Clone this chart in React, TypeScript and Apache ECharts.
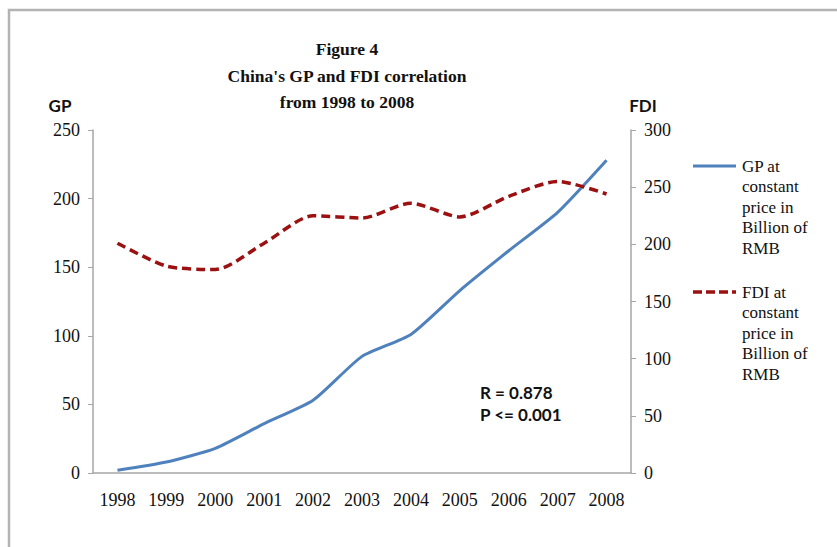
import React, { useEffect, useRef } from "react";
import * as echarts from "echarts";

const years = ["1998", "1999", "2000", "2001", "2002", "2003", "2004", "2005", "2006", "2007", "2008"];
const gpValues = [2, 8, 18, 36, 53, 85, 101, 133, 162, 190, 228];
const fdiValues = [201, 181, 178, 201, 225, 223, 236, 224, 242, 255, 244];
const gpAxisTicks = { min: 0, max: 250, interval: 50 };
const fdiAxisTicks = { min: 0, max: 300, interval: 50 };
const titleLines = ["Figure 4", "China's GP and FDI correlation", "from 1998 to 2008"];
const gpLegend = ["GP at", "constant", "price in", "Billion of", "RMB"];
const fdiLegend = ["FDI at", "constant", "price in", "Billion of", "RMB"];
const statLines = ["R = 0.878", "P <= 0.001"];

const GP_COLOR = "#4F81BD";
const FDI_COLOR = "#9B1111";
const AXIS_COLOR = "#A6A6A6";
const SERIF = "'Liberation Serif', 'Times New Roman', serif";
const SANS = "Lato, 'Liberation Sans', sans-serif";

export default function App() {
  const ref = useRef<HTMLDivElement>(null);
  useEffect(() => {
    if (!ref.current) return;
    const chart = echarts.init(ref.current, null, { renderer: "svg" });
    const axisLabel = { fontFamily: SERIF, fontSize: 18, color: "#111" };
    chart.setOption({
      animation: false,
      backgroundColor: "#fff",
      title: {
        text: titleLines.join("\n"),
        left: 342,
        top: 31,
        textAlign: "center",
        textStyle: { fontFamily: SERIF, fontSize: 17.5, fontWeight: "bold", lineHeight: 26.5, color: "#111" },
      },
      grid: { left: 93, right: 206, top: 130, bottom: 74, containLabel: false, outerBoundsMode: "none" },
      xAxis: {
        type: "category",
        data: years,
        boundaryGap: true,
        axisLine: { lineStyle: { color: AXIS_COLOR, width: 1.5 } },
        axisTick: { lineStyle: { color: AXIS_COLOR }, length: 5 },
        axisLabel: { ...axisLabel, margin: 18, interval: 0 },
      },
      yAxis: [
        {
          type: "value",
          ...gpAxisTicks,
          position: "left",
          axisLine: { show: true, lineStyle: { color: AXIS_COLOR, width: 1.5 } },
          axisTick: { show: true, length: 5, lineStyle: { color: AXIS_COLOR } },
          splitLine: { show: false },
          axisLabel: { ...axisLabel, margin: 13 },
        },
        {
          type: "value",
          ...fdiAxisTicks,
          position: "right",
          axisLine: { show: true, lineStyle: { color: AXIS_COLOR, width: 1.5 } },
          axisTick: { show: true, length: 5, lineStyle: { color: AXIS_COLOR } },
          splitLine: { show: false },
          axisLabel: { ...axisLabel, margin: 13 },
        },
      ],
      series: [
        {
          name: "GP at constant price in Billion of RMB",
          type: "line",
          data: gpValues,
          yAxisIndex: 0,
          smooth: 0.2,
          symbol: "none",
          lineStyle: { color: GP_COLOR, width: 3 },
        },
        {
          name: "FDI at constant price in Billion of RMB",
          type: "line",
          data: fdiValues,
          yAxisIndex: 1,
          smooth: 0.25,
          symbol: "none",
          lineStyle: { color: FDI_COLOR, width: 3.5, type: [9, 5] },
        },
      ],
      graphic: [
        { type: "rect", shape: { x: 9, y: 10, width: 1000, height: 1000 }, style: { fill: "none", stroke: "#B3B3B3", lineWidth: 2.5 }, silent: true },
        { type: "text", x: 60, y: 105, style: { text: "GP", fontFamily: SANS, fontWeight: "bold", fontSize: 17, fill: "#111", align: "center", verticalAlign: "middle" } },
        { type: "text", x: 643, y: 105, style: { text: "FDI", fontFamily: SANS, fontWeight: "bold", fontSize: 17, fill: "#111", align: "center", verticalAlign: "middle" } },
        { type: "line", shape: { x1: 693, y1: 166, x2: 736, y2: 166 }, style: { stroke: GP_COLOR, lineWidth: 3 } },
        { type: "text", x: 742, y: 156, style: { text: gpLegend.join("\n"), fontFamily: SERIF, fontSize: 17, lineHeight: 20.5, fill: "#111" } },
        { type: "line", shape: { x1: 693, y1: 292, x2: 736, y2: 292 }, style: { stroke: FDI_COLOR, lineWidth: 3.5, lineDash: [9, 4] } },
        { type: "text", x: 742, y: 282, style: { text: fdiLegend.join("\n"), fontFamily: SERIF, fontSize: 17, lineHeight: 20.5, fill: "#111" } },
        { type: "text", x: 480, y: 381, style: { text: statLines.join("\n"), fontFamily: SANS, fontWeight: "bold", fontSize: 17, lineHeight: 22, fill: "#111" } },
      ],
    });
    return () => chart.dispose();
  }, []);
  return <div ref={ref} style={{ width: 837, height: 547, position: "absolute", left: 0, top: 0 }} />;
}
